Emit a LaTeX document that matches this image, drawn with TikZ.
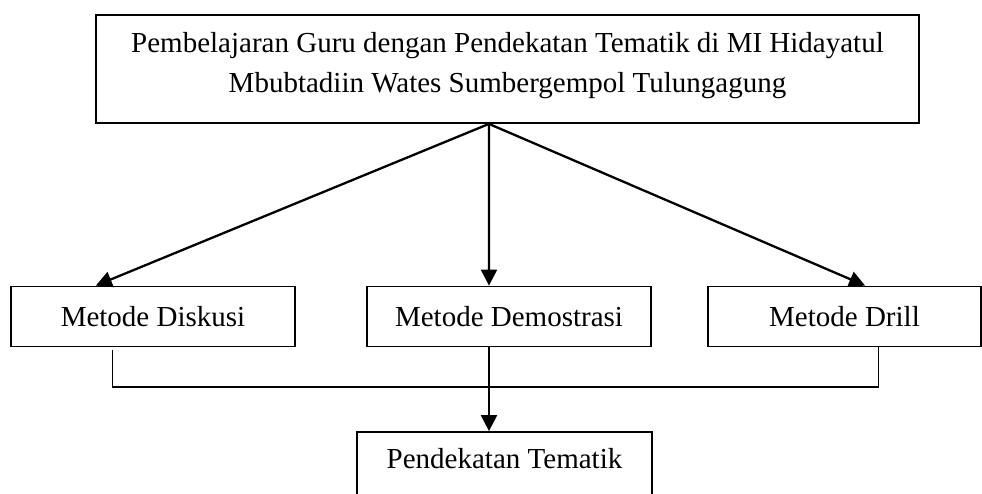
\documentclass[tikz,border=0pt]{standalone}
\usepackage{fontspec}
\setmainfont{Liberation Serif}
\usetikzlibrary{calc,arrows.meta}
\begin{document}
\begin{tikzpicture}[x=1pt,y=-1pt,
  box/.style={draw=black,line width=1.8pt,inner sep=0pt,align=center,
    font=\fontsize{29pt}{40pt}\selectfont,text height=20pt,text depth=0pt},
  arr/.style={line width=2.3pt,-{Triangle[length=16pt,width=16pt]}},
  thinline/.style={line width=1.4pt}]
\useasboundingbox (0,0) rectangle (982,493);
\clip (0,0) rectangle (982,493);
\node[box,minimum width=823pt,minimum height=108pt,text height=60pt,text depth=14pt] (top) at (507.5,69)
  {Pembelajaran Guru dengan Pendekatan Tematik di MI Hidayatul\\Mbubtadiin Wates Sumbergempol Tulungagung};
\node[box,minimum width=284pt,minimum height=60pt] (diskusi) at (153,316.5) {Metode Diskusi};
\node[box,minimum width=284pt,minimum height=60pt] (demo) at (509,316.5) {Metode Demostrasi};
\node[box,minimum width=273pt,minimum height=60pt] (drill) at (844.5,316.5) {Metode Drill};
\node[box,minimum width=295pt,minimum height=100pt,text depth=48pt] (pend) at (504.5,482) {Pendekatan Tematik};
\coordinate (apex) at ($(top.south west)!0.4775!(top.south east)$);
\draw[arr] (apex) -- ($(diskusi.north west)!0.30!(diskusi.north east)$);
\draw[arr] (apex) -- ($(demo.north west)!0.43!(demo.north east)$);
\draw[arr] (apex) -- ($(drill.north west)!0.575!(drill.north east)$);
\coordinate (bl) at ($(diskusi.south west)!0.359!(diskusi.south east)+(0,2.5)$);
\coordinate (br) at ($(drill.south west)!0.623!(drill.south east)$);
\coordinate (join) at ($(demo.south west)!0.43!(demo.south east)+(0,39.5)$);
\draw[thinline] (bl) |- (join) -| (br);
\draw[thinline] (join |- demo.south) -- (join);
\draw[arr] (join) -- (join |- pend.north);
\end{tikzpicture}
\end{document}
